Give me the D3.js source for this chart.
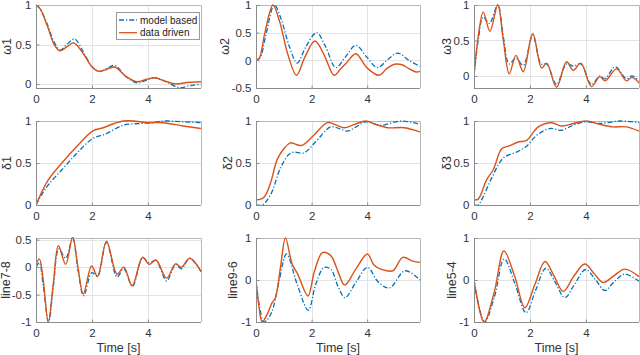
<!DOCTYPE html>
<html><head><meta charset="utf-8">
<script src="https://cdn.jsdelivr.net/npm/d3@7"></script>
<style>
html,body{margin:0;padding:0;background:#fff;}
svg{display:block;font-family:"Liberation Sans",Arial,Helvetica,sans-serif;}
</style></head>
<body><svg id="c" width="640" height="355"></svg>
<script>
// ---------- data (time [s], value) ----------
const xTicks = [0, 2, 4];
const xMax = 5.9;

const w1Model = [[0,1],[0.15,0.95],[0.4,0.76],[0.65,0.53],[0.86,0.43],[1.1,0.5],[1.38,0.57],[1.7,0.4],[2.0,0.22],[2.28,0.16],[2.55,0.2],[2.82,0.235],[3.2,0.1],[3.62,0.015],[3.95,0.05],[4.25,0.08],[4.7,0.02],[5.12,-0.045],[5.5,-0.02],[5.9,0.0]];
const w1Data  = [[0,1],[0.15,0.95],[0.4,0.74],[0.65,0.5],[0.85,0.42],[1.1,0.47],[1.35,0.52],[1.7,0.38],[2.0,0.22],[2.25,0.16],[2.55,0.19],[2.82,0.215],[3.2,0.1],[3.6,0.03],[3.95,0.06],[4.25,0.08],[4.6,0.04],[5.0,0.0],[5.4,0.02],[5.9,0.03]];

const w2Model = [[0,0],[0.15,0.05],[0.35,0.45],[0.66,1.0],[0.9,0.75],[1.2,0.25],[1.48,-0.05],[1.8,0.25],[2.18,0.5],[2.5,0.25],[2.87,-0.13],[3.2,0.05],[3.59,0.27],[4.0,0.05],[4.37,-0.13],[4.75,0.02],[5.1,0.13],[5.5,0.0],[5.9,-0.11]];
const w2Data  = [[0,0],[0.12,0.04],[0.32,0.5],[0.61,1.0],[0.85,0.7],[1.15,0.1],[1.46,-0.27],[1.75,0.05],[2.12,0.35],[2.45,0.1],[2.81,-0.27],[3.05,-0.15],[3.25,-0.05],[3.59,0.12],[4.0,-0.14],[4.43,-0.27],[4.7,-0.15],[4.98,-0.07],[5.25,-0.08],[5.5,-0.15],[5.76,-0.21],[5.9,-0.2]];

const w3Model = [[0,0],[0.15,0.5],[0.33,0.83],[0.55,0.74],[0.85,1.0],[1.05,0.55],[1.26,0.17],[1.5,0.25],[1.76,0.15],[2.1,0.57],[2.4,0.17],[2.6,0.17],[2.95,-0.12],[3.31,0.17],[3.55,0.14],[3.82,0.17],[4.2,-0.12],[4.5,0.0],[4.68,-0.04],[5.05,0.13],[5.45,-0.04],[5.65,0.0],[5.9,-0.07]];
const w3Data  = [[0,0],[0.15,0.55],[0.33,0.9],[0.57,0.63],[0.85,1.0],[1.05,0.5],[1.26,0.03],[1.5,0.29],[1.76,0.06],[2.1,0.6],[2.42,0.11],[2.6,0.18],[2.95,-0.16],[3.31,0.2],[3.55,0.08],[3.82,0.18],[4.2,-0.15],[4.5,-0.01],[4.68,-0.07],[5.1,0.1],[5.45,-0.07],[5.65,-0.02],[5.9,-0.1]];

const d1Model = [[0,0],[0.2,0.12],[0.44,0.24],[0.98,0.44],[1.5,0.63],[2.02,0.79],[2.52,0.85],[3.12,0.95],[3.71,0.97],[4.2,0.98],[4.55,1.0],[5.26,0.99],[5.9,0.98]];
const d1Data  = [[0,0],[0.2,0.15],[0.44,0.3],[0.98,0.52],[1.5,0.71],[2.02,0.88],[2.4,0.92],[2.8,0.97],[3.12,1.0],[3.48,1.0],[3.95,0.98],[4.55,0.98],[5.26,0.94],[5.9,0.91]];

const d2Model = [[0,0.0],[0.22,0.0],[0.52,0.12],[0.88,0.44],[1.18,0.6],[1.36,0.63],[1.72,0.62],[2.14,0.75],[2.69,0.93],[3.0,0.91],[3.29,0.88],[3.6,0.93],[3.95,0.99],[4.49,0.95],[5.22,1.0],[5.9,0.96]];
const d2Data  = [[0,0.06],[0.28,0.09],[0.52,0.26],[0.76,0.54],[1.0,0.67],[1.24,0.74],[1.45,0.72],[1.66,0.71],[2.08,0.83],[2.57,0.98],[2.9,0.95],[3.17,0.92],[3.55,0.96],[3.95,1.0],[4.3,0.96],[4.73,0.92],[5.34,0.92],[5.9,0.87]];

const d3Model = [[0,0],[0.15,0.0],[0.33,0.1],[0.63,0.32],[1.05,0.56],[1.52,0.63],[1.88,0.7],[2.24,0.83],[2.71,0.91],[3.13,0.89],[3.55,0.95],[4.0,0.99],[4.5,0.97],[5.21,1.0],[5.9,0.98]];
const d3Data  = [[0,0.06],[0.15,0.07],[0.45,0.3],[0.69,0.42],[0.99,0.67],[1.23,0.7],[1.58,0.75],[1.88,0.77],[2.3,0.93],[2.77,0.98],[3.13,0.94],[3.55,0.97],[4.0,1.0],[4.5,0.96],[4.98,0.93],[5.45,0.93],[5.9,0.88]];

const l78Model = [[0,0.0],[0.12,0.08],[0.25,-0.3],[0.45,-1.0],[0.62,-0.35],[0.82,0.33],[1.06,0.16],[1.31,0.52],[1.5,-0.05],[1.7,-0.52],[2.0,-0.1],[2.2,-0.17],[2.52,0.45],[2.9,-0.18],[3.14,-0.03],[3.45,-0.35],[3.81,0.17],[4.05,0.08],[4.29,0.12],[4.67,-0.25],[4.99,0.05],[5.2,-0.03],[5.5,0.16],[5.9,-0.08]];
const l78Data  = [[0,0.05],[0.12,0.15],[0.25,-0.2],[0.44,-1.0],[0.62,-0.3],[0.8,0.39],[1.06,0.05],[1.31,0.55],[1.5,0.0],[1.69,-0.49],[1.99,0.02],[2.2,-0.17],[2.52,0.47],[2.9,-0.13],[3.14,0.0],[3.44,-0.34],[3.81,0.18],[4.05,0.05],[4.29,0.13],[4.67,-0.2],[4.99,0.06],[5.2,0.0],[5.5,0.16],[5.9,-0.08]];

const l96Model = [[0,0],[0.12,-0.6],[0.28,-1.0],[0.4,-0.95],[0.58,-0.74],[0.82,-0.06],[1.1,0.62],[1.48,-0.1],[1.88,-0.72],[2.15,-0.1],[2.45,0.3],[2.7,0.25],[2.95,-0.15],[3.2,-0.42],[3.6,-0.05],[4.01,0.3],[4.4,-0.05],[4.8,-0.19],[5.36,0.22],[5.9,0.0]];
const l96Data  = [[0,0],[0.1,-0.6],[0.22,-1.0],[0.4,-0.82],[0.58,-0.54],[0.7,-0.42],[0.88,0.3],[1.06,1.0],[1.3,0.38],[1.5,0.14],[1.87,-0.38],[2.1,0.2],[2.39,0.65],[2.69,0.58],[2.95,0.2],[3.19,-0.12],[3.59,0.26],[4.01,0.62],[4.25,0.35],[4.49,0.26],[4.92,0.22],[5.28,0.54],[5.64,0.45],[5.9,0.42]];

const l54Model = [[0,0],[0.38,-1.0],[0.73,-0.4],[1.08,0.5],[1.47,-0.1],[1.86,-0.78],[2.2,-0.25],[2.57,0.28],[2.9,-0.05],[3.25,-0.42],[3.6,-0.1],[3.99,0.25],[4.35,0.0],[4.68,-0.25],[5.0,-0.05],[5.39,0.14],[5.9,-0.03]];
const l54Data  = [[0,0],[0.36,-1.0],[0.72,-0.3],[1.07,0.69],[1.45,0.1],[1.82,-0.66],[2.18,-0.1],[2.54,0.44],[2.86,0.1],[3.19,-0.27],[3.58,0.1],[3.96,0.38],[4.3,0.15],[4.62,-0.06],[5.0,0.1],[5.39,0.26],[5.9,0.08]];

const yLabels = ["ω1","ω2","ω3","δ1","δ2","δ3","line7-8","line9-6","line5-4"];
const yDomains = [[-0.05,1],[-0.5,1],[-0.17,1],[0,1],[0,1],[0,1],[-1,0.53],[-1,1],[-1,1]];
const yTickSets = [[0,0.5,1],[-0.5,0,0.5,1],[0,0.5,1],[0,0.5,1],[0,0.5,1],[0,0.5,1],[-1,-0.5,0,0.5],[-1,0,1],[-1,0,1]];
const modelSeries = [w1Model,w2Model,w3Model,d1Model,d2Model,d3Model,l78Model,l96Model,l54Model];
const dataSeries  = [w1Data,w2Data,w3Data,d1Data,d2Data,d3Data,l78Data,l96Data,l54Data];
const legendLabels = ["model based","data driven"];
const xLabel = "Time [s]";

// ---------- layout ----------
const cols = [{l:36,r:201},{l:256,r:420},{l:474,r:639}];
const rows = [{t:5,b:88},{t:121,b:205},{t:238,b:322}];
const ylabelX = [7,225,447,7,228,447,6,233,452];
const BLUE = "#0072BD", ORANGE = "#D95319";

const svg = d3.select("#c");
const defs = svg.append("defs");

yLabels.forEach((lab, i) => {
  const c = cols[i % 3], r = rows[Math.floor(i / 3)];
  const x = d3.scaleLinear().domain([0, xMax]).range([c.l, c.r]);
  const y = d3.scaleLinear().domain(yDomains[i]).range([r.b, r.t]);
  const g = svg.append("g");

  // grid
  g.append("g").selectAll("line").data(xTicks.filter(v => v > 0)).join("line")
    .attr("x1", d => Math.round(x(d)) + 0.5).attr("x2", d => Math.round(x(d)) + 0.5)
    .attr("y1", r.t).attr("y2", r.b).attr("stroke", "#e3e3e3").attr("stroke-width", 1);
  g.append("g").selectAll("line").data(yTickSets[i]).join("line")
    .attr("x1", c.l).attr("x2", c.r)
    .attr("y1", d => Math.round(y(d)) + 0.5).attr("y2", d => Math.round(y(d)) + 0.5)
    .attr("stroke", "#e3e3e3").attr("stroke-width", 1);

  // box top/right
  g.append("path")
    .attr("d", `M${c.l},${r.t + 0.5}H${c.r + 0.5}V${r.b}`)
    .attr("fill", "none").attr("stroke", "#b8b8b8").attr("stroke-width", 1);

  // clip
  const cid = "clip" + i;
  defs.append("clipPath").attr("id", cid).append("rect")
    .attr("x", c.l).attr("y", r.t - 1).attr("width", c.r - c.l + 1).attr("height", r.b - r.t + 2);

  const line = d3.line().x(d => x(d[0])).y(d => y(d[1])).curve(d3.curveCatmullRom.alpha(0.5));
  const pg = g.append("g").attr("clip-path", `url(#${cid})`);
  pg.append("path").attr("d", line(modelSeries[i])).attr("fill", "none")
    .attr("stroke", BLUE).attr("stroke-width", 1.3).attr("stroke-dasharray", "5,2,1.2,2");
  pg.append("path").attr("d", line(dataSeries[i])).attr("fill", "none")
    .attr("stroke", ORANGE).attr("stroke-width", 1.4);

  // axes
  const ax = d3.axisBottom(x).tickValues(xTicks).tickSize(-3).tickPadding(6).tickFormat(d3.format("d"));
  const ay = d3.axisLeft(y).tickValues(yTickSets[i]).tickSize(-3).tickPadding(5).tickFormat(d => String(d));
  const gx = g.append("g").attr("transform", `translate(0,${Math.round(r.b) + 0.5})`).call(ax);
  const gy = g.append("g").attr("transform", `translate(${c.l + 0.5},0)`).call(ay);
  [gx, gy].forEach(a => {
    a.select(".domain").attr("stroke", "#8c8c8c");
    a.selectAll(".tick line").attr("stroke", "#8c8c8c");
    a.selectAll(".tick text").attr("fill", "#333").style("font-size", "11.5px")
      .style("font-family", '"Liberation Sans",Arial,sans-serif');
  });
  gx.select(".domain").attr("d", `M${c.l},0H${c.r}`);
  gy.select(".domain").attr("d", `M0,${r.b}V${r.t}`);

  // y label
  svg.append("text").attr("transform", `translate(${ylabelX[i]},${(r.t + r.b) / 2}) rotate(-90)`)
    .attr("text-anchor", "middle").attr("dominant-baseline", "central")
    .attr("fill", "#333").style("font-size", "12.5px").text(lab);

  if (i >= 6) {
    svg.append("text").attr("x", (c.l + c.r) / 2).attr("y", 348)
      .attr("text-anchor", "middle").attr("dominant-baseline", "central")
      .attr("fill", "#333").style("font-size", "12.5px").text(xLabel);
  }
});

// legend
const lg = svg.append("g");
lg.append("rect").attr("x", 116.5).attr("y", 12.5).attr("width", 83).attr("height", 27)
  .attr("fill", "#fff").attr("stroke", "#9a9a9a").attr("stroke-width", 1);
[[BLUE, "5,2,1.2,2"], [ORANGE, null]].forEach((s, k) => {
  const yy = 20 + k * 12.7;
  lg.append("line").attr("x1", 119).attr("x2", 137).attr("y1", yy).attr("y2", yy)
    .attr("stroke", s[0]).attr("stroke-width", 1.3).attr("stroke-dasharray", s[1]);
  lg.append("text").attr("x", 140).attr("y", yy).attr("dominant-baseline", "central")
    .attr("fill", "#222").style("font-size", "10px").text(legendLabels[k]);
});
</script></body></html>
